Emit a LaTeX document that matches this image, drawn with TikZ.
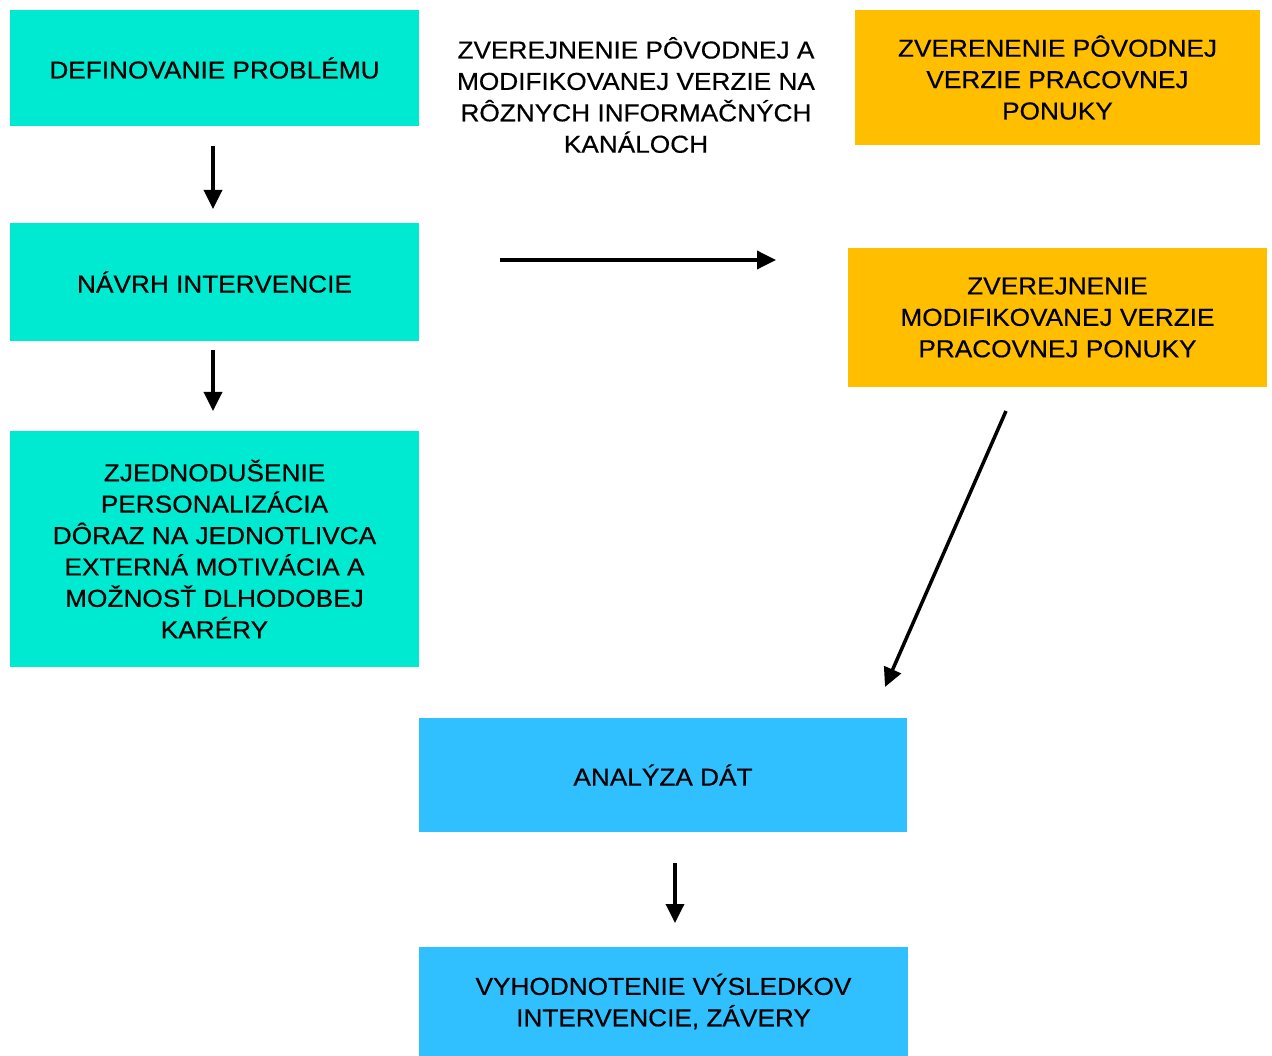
\documentclass[tikz,border=0pt]{standalone}
\usepackage{fontspec}
\setmainfont{Liberation Sans}[FakeStretch=1.07,FakeBold=0.4]
\usetikzlibrary{arrows.meta}
\definecolor{teal1}{HTML}{00EAD2}
\definecolor{orange1}{HTML}{FFBE00}
\definecolor{blue1}{HTML}{30BFFF}
\begin{document}
\begin{tikzpicture}[x=1pt,y=-1pt,
  box/.style={rectangle, inner sep=0pt, align=center, font=\fontsize{24.5}{31.4}\selectfont, text=black},
  tealbox/.style={box, fill=teal1},
  orangebox/.style={box, fill=orange1},
  bluebox/.style={box, fill=blue1},
  plain/.style={box},
  conn/.style={line width=3.5pt, -{Triangle[length=19pt,width=18pt]}}
]
\useasboundingbox (0,0) rectangle (1272,1056);
\fill[white] (0,0) rectangle (1272,1056);

\node[tealbox, minimum width=409pt, minimum height=116pt] (def) at (214.5,68) {DEFINOVANIE PROBLÉMU};
\node[tealbox, minimum width=409pt, minimum height=118pt] (navrh) at (214.5,282) {NÁVRH INTERVENCIE};
\node[tealbox, minimum width=409pt, minimum height=236pt] (zjed) at (214.5,549) {ZJEDNODUŠENIE\\PERSONALIZÁCIA\\DÔRAZ NA JEDNOTLIVCA\\EXTERNÁ MOTIVÁCIA A\\MOŽNOSŤ DLHODOBEJ\\KARÉRY};
\node[plain] (zver) at (636,95) {ZVEREJNENIE PÔVODNEJ A\\MODIFIKOVANEJ VERZIE NA\\RÔZNYCH INFORMAČNÝCH\\KANÁLOCH};
\node[orangebox, minimum width=405pt, minimum height=135pt] (pov) at (1057.5,77.5) {ZVERENENIE PÔVODNEJ\\VERZIE PRACOVNEJ\\PONUKY};
\node[orangebox, minimum width=419pt, minimum height=139pt] (mod) at (1057.5,317.5) {ZVEREJNENIE\\MODIFIKOVANEJ VERZIE\\PRACOVNEJ PONUKY};
\node[bluebox, minimum width=488pt, minimum height=114pt] (anal) at (663,775) {ANALÝZA DÁT};
\node[bluebox, minimum width=489pt, minimum height=109pt] (vyh) at (663.5,1001.5) {VYHODNOTENIE VÝSLEDKOV\\INTERVENCIE, ZÁVERY};

\coordinate (a1s) at (213,146); \coordinate (a1e) at (213,209);
\coordinate (a2s) at (213,350); \coordinate (a2e) at (213,411);
\coordinate (a3s) at (500,260); \coordinate (a3e) at (776,260);
\coordinate (a4s) at (1006,411); \coordinate (a4e) at (885,687);
\coordinate (a5s) at (675,863); \coordinate (a5e) at (675,923);

\draw[conn] (a1s) -- (a1e);
\draw[conn] (a2s) -- (a2e);
\draw[conn] (a3s) -- (a3e);
\draw[conn] (a4s) -- (a4e);
\draw[conn] (a5s) -- (a5e);
\end{tikzpicture}
\end{document}
